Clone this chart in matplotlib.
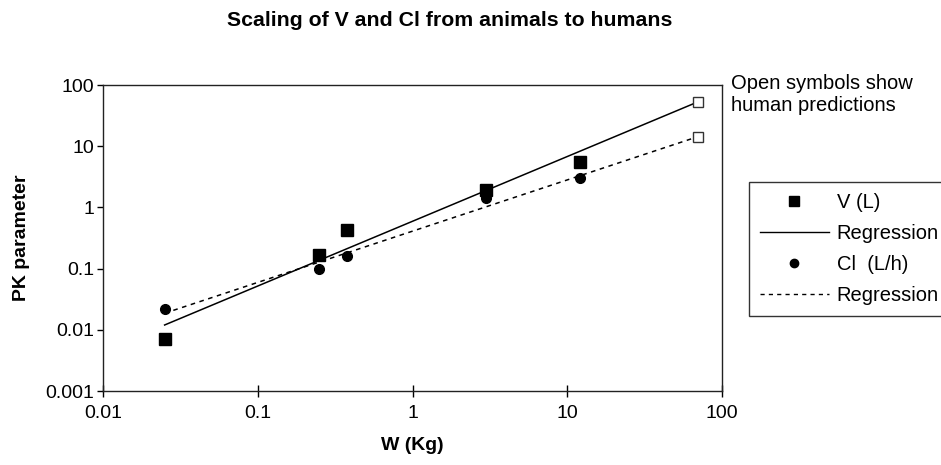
import numpy as np
import matplotlib.pyplot as plt
from matplotlib.lines import Line2D

plt.rcParams['font.family'] = ['Liberation Sans', 'DejaVu Sans']

# body weight (kg) of the animal species
weight = [0.025, 0.25, 0.375, 3.0, 12.0]
human_weight = 70.0

# volume of distribution (L) and clearance (L/h)
vol = [0.0071, 0.17, 0.42, 1.9, 5.6]
cl = [0.022, 0.098, 0.16, 1.4, 3.0]

logw = np.log10(weight)
pv = np.polyfit(logw, np.log10(vol), 1)
pc = np.polyfit(logw, np.log10(cl), 1)

xline = np.array([weight[0], human_weight])
v_line = 10 ** np.polyval(pv, np.log10(xline))
c_line = 10 ** np.polyval(pc, np.log10(xline))

fig = plt.figure(figsize=(9.41, 4.65), dpi=100)
ax = fig.add_axes([0.1095, 0.1591, 0.6578, 0.6581])

ax.plot(xline, v_line, color='black', lw=1.1)
ax.plot(xline, c_line, color='black', lw=1.1, linestyle=(0, (3, 3)))
ax.plot(weight, vol, 's', color='black', ms=8)
ax.plot(weight, cl, 'o', color='black', ms=7)
ax.plot([human_weight], [v_line[1]], 's', mfc='white', mec='#333333', ms=7.5, mew=1)
ax.plot([human_weight], [c_line[1]], 's', mfc='white', mec='#333333', ms=7.5, mew=1)

ax.set_xscale('log')
ax.set_yscale('log')
ax.set_xlim(0.01, 100)
ax.set_ylim(0.001, 100)
ax.set_xticks([0.01, 0.1, 1, 10, 100])
ax.set_xticklabels(['0.01', '0.1', '1', '10', '100'])
ax.set_yticks([0.001, 0.01, 0.1, 1, 10, 100])
ax.set_yticklabels(['0.001', '0.01', '0.1', '1', '10', '100'])
ax.minorticks_off()
ax.tick_params(axis='both', labelsize=14, length=4.5, width=1, direction='out')
ax.tick_params(axis='y', pad=2)
ax.tick_params(axis='x', direction='inout', length=8, pad=6)
for s in ax.spines.values():
    s.set_linewidth(1)
    s.set_color('#222222')

ax.set_xlabel('W (Kg)', fontsize=14, fontweight='bold', labelpad=11)
ax.set_ylabel('PK parameter', fontsize=14, fontweight='bold', labelpad=11)

fig.text(0.478, 0.955, 'Scaling of V and Cl from animals to humans',
         ha='center', va='center', fontsize=15.3, fontweight='bold')
fig.text(0.777, 0.797, 'Open symbols show\nhuman predictions',
         ha='left', va='center', fontsize=14.5, linespacing=1.25)

handles = [
    Line2D([], [], marker='s', color='black', ls='none', ms=6.5),
    Line2D([], [], color='black', lw=1),
    Line2D([], [], marker='o', color='black', ls='none', ms=6),
    Line2D([], [], color='black', lw=1, ls=(0, (3, 3))),
]
labels = ['V (L)', 'Regression', 'Cl  (L/h)', 'Regression']
leg = fig.legend(handles, labels, loc='upper left', bbox_to_anchor=(0.796, 0.609),
                 fontsize=14.5, frameon=True, fancybox=False, edgecolor='black',
                 handlelength=3.4, handletextpad=0.4, borderpad=0.55,
                 labelspacing=0.6, borderaxespad=0)
leg.get_frame().set_linewidth(1)

fig.savefig('out.png', dpi=100)
